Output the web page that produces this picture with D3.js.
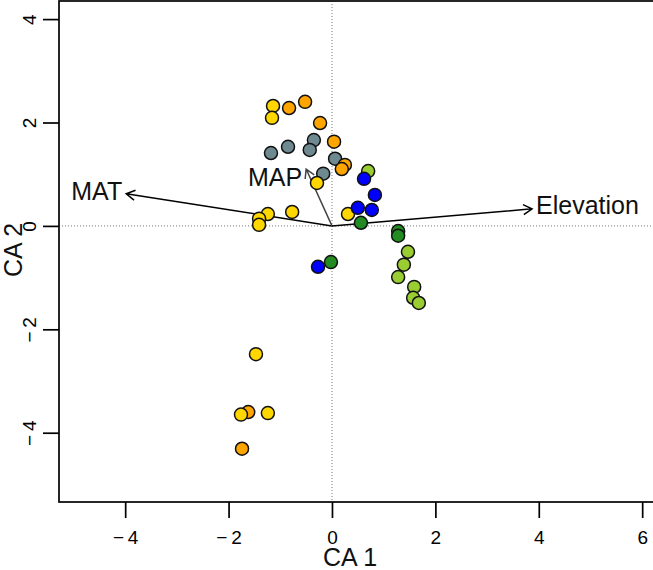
<!DOCTYPE html>
<html>
<head>
<meta charset="utf-8">
<script src="https://cdn.jsdelivr.net/npm/d3@7"></script>
<style>
  body { margin: 0; background: #fff; }
  svg { display: block; font-family: "Liberation Sans", Arial, sans-serif; }
</style>
</head>
<body>
<svg id="chart" width="653" height="570"></svg>
<script>
/* SITE SCORES ON THE FIRST TWO CA AXES */
var siteGroup = [
  "g3","g3","g3","g3","g3","g3",
  "g2","g2","g2","g2","g2","g2","g2","g2",
  "g1","g1","g1","g1","g1","g1","g1","g1","g1","g1","g1",
  "g4","g4","g4","g4","g4","g4","g4",
  "g5","g5","g5","g5",
  "g6","g6","g6","g6","g6"
];
var siteCA1 = [
  -1.18,-0.85,-0.35,-0.43,0.06,-0.17,
  -0.83,-0.52,-0.23,0.04,0.25,0.19,-1.62,-1.74,
  -1.14,-1.16,-1.24,-1.41,-1.41,-0.77,-0.29,0.31,-1.47,-1.76,-1.24,
  0.70,1.47,1.39,1.28,1.59,1.57,1.68,
  0.56,1.28,1.28,-0.02,
  0.62,0.83,0.50,0.77,-0.27
];
var siteCA2 = [
  1.41,1.53,1.66,1.47,1.30,1.01,
  2.28,2.40,1.99,1.63,1.18,1.10,-3.60,-4.31,
  2.32,2.09,0.23,0.14,0.02,0.27,0.83,0.23,-2.48,-3.65,-3.62,
  1.06,-0.50,-0.75,-0.99,-1.18,-1.39,-1.49,
  0.06,-0.10,-0.19,-0.70,
  0.91,0.60,0.35,0.31,-0.79
];

/* ENVIRONMENTAL VECTORS */
var envNames = ["MAT", "MAP", "Elevation"];
var envCA1 = [-3.98, -0.50, 3.87];
var envCA2 = [0.62, 1.10, 0.33];

/* TICK VALUES */
var xTicks = [-4, -2, 0, 2, 4, 6];
var yTicks = [-4, -2, 0, 2, 4];

var groupOrder = ["g1","g2","g3","g4","g5","g6"];
var color = d3.scaleOrdinal()
  .domain(groupOrder)
  .range(["#FFD700", "#FFA500", "#6E8990", "#9ACD32", "#228B22", "#0000FF"]);

var svg = d3.select("#chart");
var plotLeft = 59, plotTop = 1, plotBottom = 502;

/* SAME UNITS ON BOTH AXES */
var x = d3.scaleLinear().domain([-5.28, 6.4]).range([plotLeft, plotLeft + 11.68 * 51.7]);
var y = d3.scaleLinear().domain([-5.34, 4.35]).range([plotBottom, plotTop]);

var plot = svg.append("g");

/* DOTTED ZERO LINES */
plot.append("line")
  .attr("x1", x(0)).attr("x2", x(0))
  .attr("y1", plotTop).attr("y2", plotBottom)
  .attr("stroke", "#777").attr("stroke-width", 1).attr("stroke-dasharray", "1,2");
plot.append("line")
  .attr("x1", plotLeft).attr("x2", 660)
  .attr("y1", y(0)).attr("y2", y(0))
  .attr("stroke", "#777").attr("stroke-width", 1).attr("stroke-dasharray", "1,2");

/* ARROWS */
function arrow(x0, y0, x1, y1, col, w) {
  var ang = Math.atan2(y1 - y0, x1 - x0), len = 10, spread = Math.PI / 6;
  var p = d3.path();
  p.moveTo(x0, y0); p.lineTo(x1, y1);
  p.moveTo(x1 - len * Math.cos(ang - spread), y1 - len * Math.sin(ang - spread));
  p.lineTo(x1, y1);
  p.lineTo(x1 - len * Math.cos(ang + spread), y1 - len * Math.sin(ang + spread));
  plot.append("path").attr("d", p.toString())
    .attr("fill", "none").attr("stroke", col).attr("stroke-width", w);
}
var arrowCol = ["#000", "#444", "#000"];
var labelDy = [-3, 8, -4];
envNames.forEach(function(n, i) {
  var tx = x(envCA1[i]), ty = y(envCA2[i]);
  arrow(x(0), y(0), tx, ty, arrowCol[i], 1.5);
  plot.append("text")
    .attr("x", envCA1[i] < 0 ? tx - 4 : tx + 4)
    .attr("y", ty + labelDy[i])
    .attr("dy", "0.36em")
    .attr("text-anchor", envCA1[i] < 0 ? "end" : "start")
    .attr("font-size", "25px")
    .attr("fill", "#111")
    .text(n);
});

/* SITE POINTS, DRAWN IN DATA ORDER */
var order = ["g3","g2","g1","g4","g5","g6"];
var idx = d3.range(siteCA1.length).sort(function(a, b) {
  return order.indexOf(siteGroup[a]) - order.indexOf(siteGroup[b]) || a - b;
});
plot.selectAll("circle.site")
  .data(idx)
  .enter().append("circle")
  .attr("class", "site")
  .attr("cx", function(i) { return x(siteCA1[i]); })
  .attr("cy", function(i) { return y(siteCA2[i]); })
  .attr("r", 6.5)
  .attr("fill", function(i) { return color(siteGroup[i]); })
  .attr("stroke", "#111")
  .attr("stroke-width", 1.5);

/* BOX */
svg.append("rect")
  .attr("x", plotLeft).attr("y", plotTop)
  .attr("width", 700).attr("height", plotBottom - plotTop)
  .attr("fill", "none").attr("stroke", "#000").attr("stroke-width", 1.7);

/* AXES */
var fmt = function(d) { return d < 0 ? "\u2212\u2009" + Math.abs(d) : d; };
var xAxis = svg.append("g")
  .attr("transform", "translate(0," + plotBottom + ")")
  .call(d3.axisBottom(x).tickValues(xTicks).tickSize(16).tickSizeOuter(0).tickFormat(fmt));
xAxis.select(".domain").remove();
xAxis.selectAll("line").attr("stroke", "#000").attr("stroke-width", 1.7);
xAxis.selectAll("text")
  .attr("y", 35).attr("dy", "0.35em")
  .attr("font-size", "19px").attr("font-family", "Liberation Sans, Arial, sans-serif")
  .attr("fill", "#000");

var yAxis = svg.append("g")
  .attr("transform", "translate(" + plotLeft + ",0)")
  .call(d3.axisLeft(y).tickValues(yTicks).tickSize(16).tickSizeOuter(0).tickFormat(fmt));
yAxis.select(".domain").remove();
yAxis.selectAll("line").attr("stroke", "#000").attr("stroke-width", 1.7);
yAxis.selectAll("text")
  .attr("x", 0).attr("dy", "0.35em")
  .attr("text-anchor", "middle")
  .attr("transform", "translate(-30,0) rotate(-90)")
  .attr("font-size", "19px").attr("font-family", "Liberation Sans, Arial, sans-serif")
  .attr("fill", "#000");

/* AXIS TITLES */
svg.append("text")
  .attr("x", 350).attr("y", 557).attr("dy", "0.36em")
  .attr("text-anchor", "middle").attr("font-size", "25px").attr("fill", "#111")
  .text("CA 1");
svg.append("text")
  .attr("transform", "translate(13,250) rotate(-90)")
  .attr("dy", "0.36em")
  .attr("text-anchor", "middle").attr("font-size", "25px").attr("fill", "#111")
  .text("CA 2");
</script>
</body>
</html>
